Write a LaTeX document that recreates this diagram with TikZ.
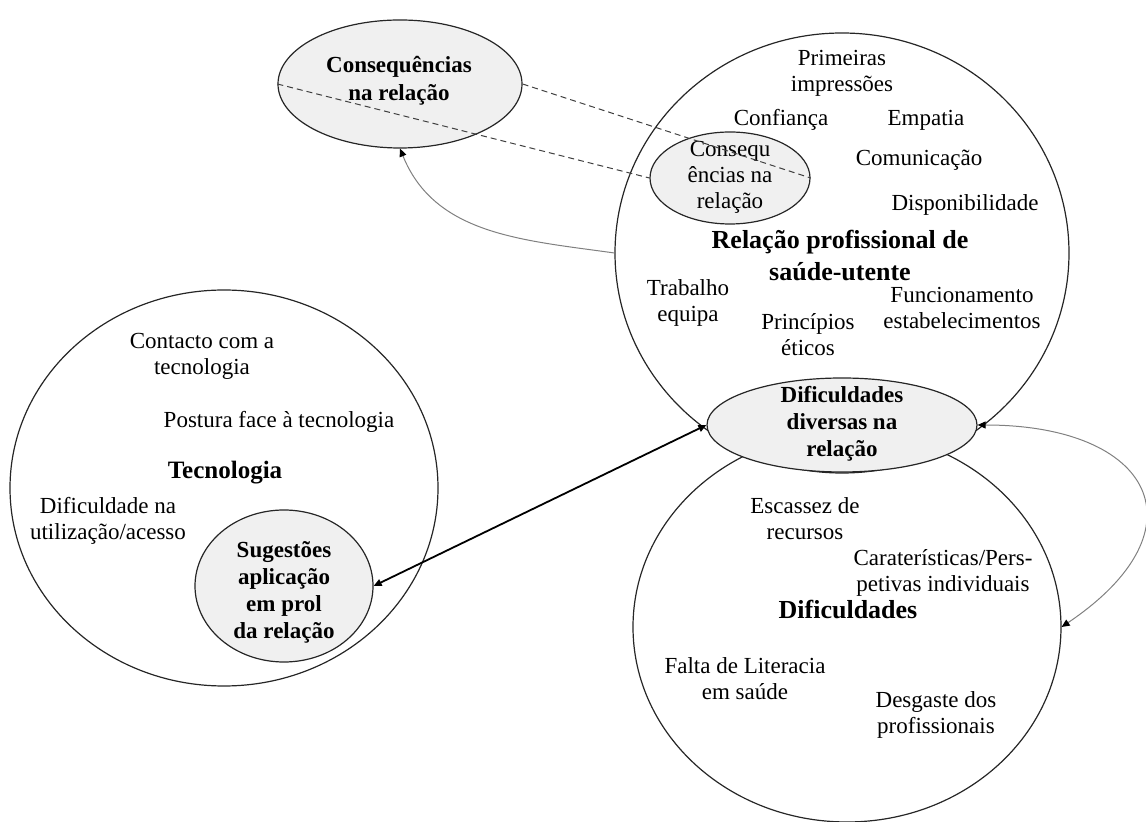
\documentclass[tikz,border=0pt]{standalone}
\usepackage{fontspec}
\setmainfont{Liberation Serif}
\usetikzlibrary{shapes.geometric,arrows.meta}

\begin{document}
\begin{tikzpicture}[x=0.5pt, y=-0.5pt,
  >={Triangle[length=4pt,width=3.5pt,color=black]},
  circ/.style={draw=black!85, line width=0.6pt, ellipse, inner sep=0pt},
  ebox/.style={draw=black!85, fill=black!6, line width=0.6pt, ellipse, inner sep=0pt},
  txt/.style={align=center, inner sep=0pt, font=\fontsize{11.5}{13}\selectfont},
  etxt/.style={align=center, inner sep=0pt, font=\bfseries\fontsize{11.5}{13.5}\selectfont},
  ttl/.style={align=center, inner sep=0pt, font=\bfseries\fontsize{13}{16}\selectfont}]
\useasboundingbox (0,0) rectangle (1146,822);

\node[circ, minimum width=227pt, minimum height=220pt] (c1) at (842,253) {};
\node[circ, minimum width=214pt, minimum height=198pt] (c2) at (224,488) {};
\node[circ, minimum width=214pt, minimum height=195pt] (c3) at (847,627) {};

\node[ebox, minimum width=122pt, minimum height=64pt] (e1) at (400,84) {};
\node[ebox, minimum width=80pt, minimum height=46pt] (e2) at (730,178) {};
\node[ebox, minimum width=135pt, minimum height=47pt] (e3) at (842,425) {};
\node[ebox, minimum width=89pt, minimum height=76pt] (e4) at (284,586) {};

\node[etxt, font=\bfseries\fontsize{11.5}{14}\selectfont] (e1t) at (399,81) {Consequências\\na relação};
\node[txt] (e2t) at (730,177) {Consequ\\ências na\\relação};
\node[etxt] (e3t) at (842,424) {Dificuldades\\diversas na\\relação};
\node[etxt] (e4t) at (284,592) {Sugestões\\aplicação\\em prol\\da relação};

\node[txt] (prim) at (842,73) {Primeiras\\impressões};
\node[txt] (conf) at (781,120) {Confiança};
\node[txt] (emp) at (926,120) {Empatia};
\node[txt] (com) at (919,160) {Comunicação};
\node[txt] (disp) at (965,205) {Disponibilidade};
\node[ttl] (rel) at (840,256) {Relação profissional de\\saúde-utente};
\node[txt] (trab) at (688,303) {Trabalho\\equipa};
\node[txt] (princ) at (808,335) {Princípios\\éticos};
\node[txt] (func) at (962,308) {Funcionamento\\estabelecimentos};

\node[txt] (cont) at (202,356) {Contacto com a\\tecnologia};
\node[txt] (post) at (279,422) {Postura face à tecnologia};
\node[ttl, font=\bfseries\fontsize{12.5}{15}\selectfont] (tec) at (225,473) {Tecnologia};
\node[txt] (difu) at (108,521) {Dificuldade na\\utilização/acesso};

\node[txt] (esc) at (805,519) {Escassez de\\recursos};
\node[txt] (car) at (943,573) {Caraterísticas/Pers-\\petivas individuais};
\node[ttl] (dif) at (848,610) {Dificuldades};
\node[txt] (falta) at (745,679) {Falta de Literacia\\em saúde};
\node[txt] (desg) at (936,715) {Desgaste dos\\profissionais};

\draw[dashed, dash pattern=on 3pt off 2pt, line width=0.5pt, black!75] (e1.west) -- (e2.west);
\draw[dashed, dash pattern=on 3pt off 2pt, line width=0.5pt, black!75] (e1.east) -- (e2.east);
\draw[->, black!50, line width=0.5pt] (c1.west) to[out=172, in=-68] (e1.south);
\draw[<->, line width=0.9pt] (e3.west) -- (e4.east);
\draw[<->, black!50, line width=0.5pt] (e3.east) to[out=0, in=34, looseness=2.05] (c3.east);
\end{tikzpicture}
\end{document}
